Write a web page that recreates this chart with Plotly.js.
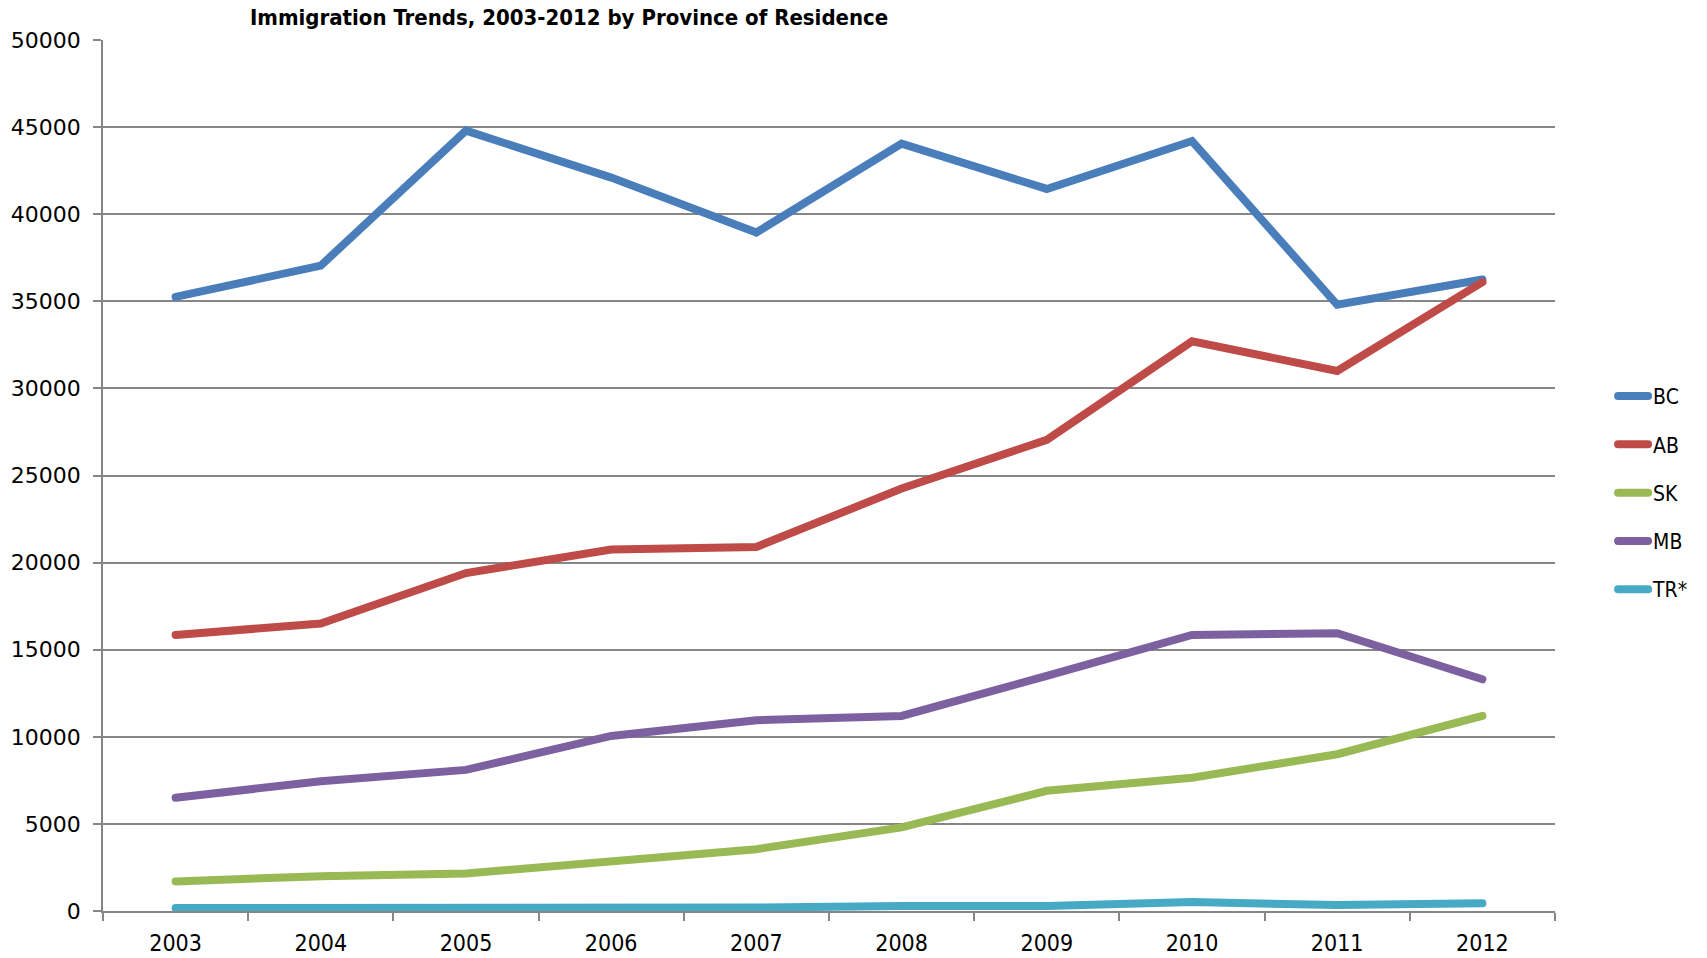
<!DOCTYPE html>
<html>
<head>
<meta charset="utf-8">
<script src="https://cdn.plot.ly/plotly-3.0.1.min.js"></script>
<style>
html,body{margin:0;padding:0;background:#fff;}
#chart{width:1707px;height:958px;}
#chart .scatterlayer .js-line{stroke-linecap:round;}
#chart .legendlines path{stroke-linecap:round;}
</style>
</head>
<body>
<div id="chart"></div>
<script>
const years = ["2003","2004","2005","2006","2007","2008","2009","2010","2011","2012"];
const seriesNames = ["BC","AB","SK","MB","TR*"];
const BC = [35250, 37050, 44800, 42100, 38950, 44050, 41450, 44200, 34800, 36250];
const AB = [15850, 16500, 19400, 20750, 20900, 24250, 27050, 32700, 31000, 36100];
const SK = [1700, 2000, 2150, 2800, 3550, 4800, 6900, 7650, 9000, 11200];
const MB = [6500, 7450, 8100, 10050, 10950, 11200, 13500, 15850, 15950, 13300];
const TR = [170, 160, 150, 170, 200, 280, 290, 520, 340, 450];
const colors = ["#4a7ebb","#be4b48","#98b954","#7d60a0","#46aac5"];

const data = [BC, AB, SK, MB, TR].map((vals, i) => ({
  type: "scatter",
  mode: "lines",
  name: seriesNames[i],
  x: years,
  y: vals,
  legendgroup: "g" + i,
  line: {color: colors[i], width: 8},
  hoverinfo: "x+y+name"
}));

const axisGray = "#868686";
const condensed = "DejaVu Sans Condensed, Liberation Sans Narrow, sans-serif";
const layout = {
  width: 1707,
  height: 958,
  paper_bgcolor: "#ffffff",
  plot_bgcolor: "#ffffff",
  margin: {l: 103, r: 152, t: 40, b: 47},
  title: {
    text: "<b>Immigration Trends, 2003-2012 by Province of Residence</b>",
    font: {family: condensed, size: 22, color: "#000"},
    xref: "paper", x: 0.321, xanchor: "center",
    yref: "container", y: 0.982, yanchor: "middle"
  },
  xaxis: {
    type: "category",
    range: [-0.5, 9.5],
    showline: true, linecolor: axisGray, linewidth: 2,
    ticks: "outside", tickson: "boundaries", ticklen: 8, tickwidth: 1.5, tickcolor: axisGray,
    showgrid: false, zeroline: false,
    ticklabelstandoff: 10,
    tickfont: {family: condensed, size: 23, color: "#000"}
  },
  yaxis: {
    range: [0, 50000], dtick: 5000, tick0: 0, tickformat: "d",
    showline: true, linecolor: axisGray, linewidth: 1.5,
    ticks: "outside", ticklen: 8, tickwidth: 1.5, tickcolor: axisGray,
    showgrid: true, gridcolor: axisGray, gridwidth: 2,
    zeroline: false,
    ticklabelstandoff: 8,
    tickfont: {family: "DejaVu Sans, sans-serif", size: 22, color: "#000"}
  },
  showlegend: true,
  legend: {
    x: 1.040, xanchor: "left", xref: "paper",
    y: 0.48, yanchor: "middle", yref: "paper",
    traceorder: "grouped", tracegroupgap: 18,
    font: {family: condensed, size: 21, color: "#000"},
    bgcolor: "rgba(0,0,0,0)", borderwidth: 0
  }
};

Plotly.newPlot("chart", data, layout, {displayModeBar: false, responsive: false});
</script>
</body>
</html>
